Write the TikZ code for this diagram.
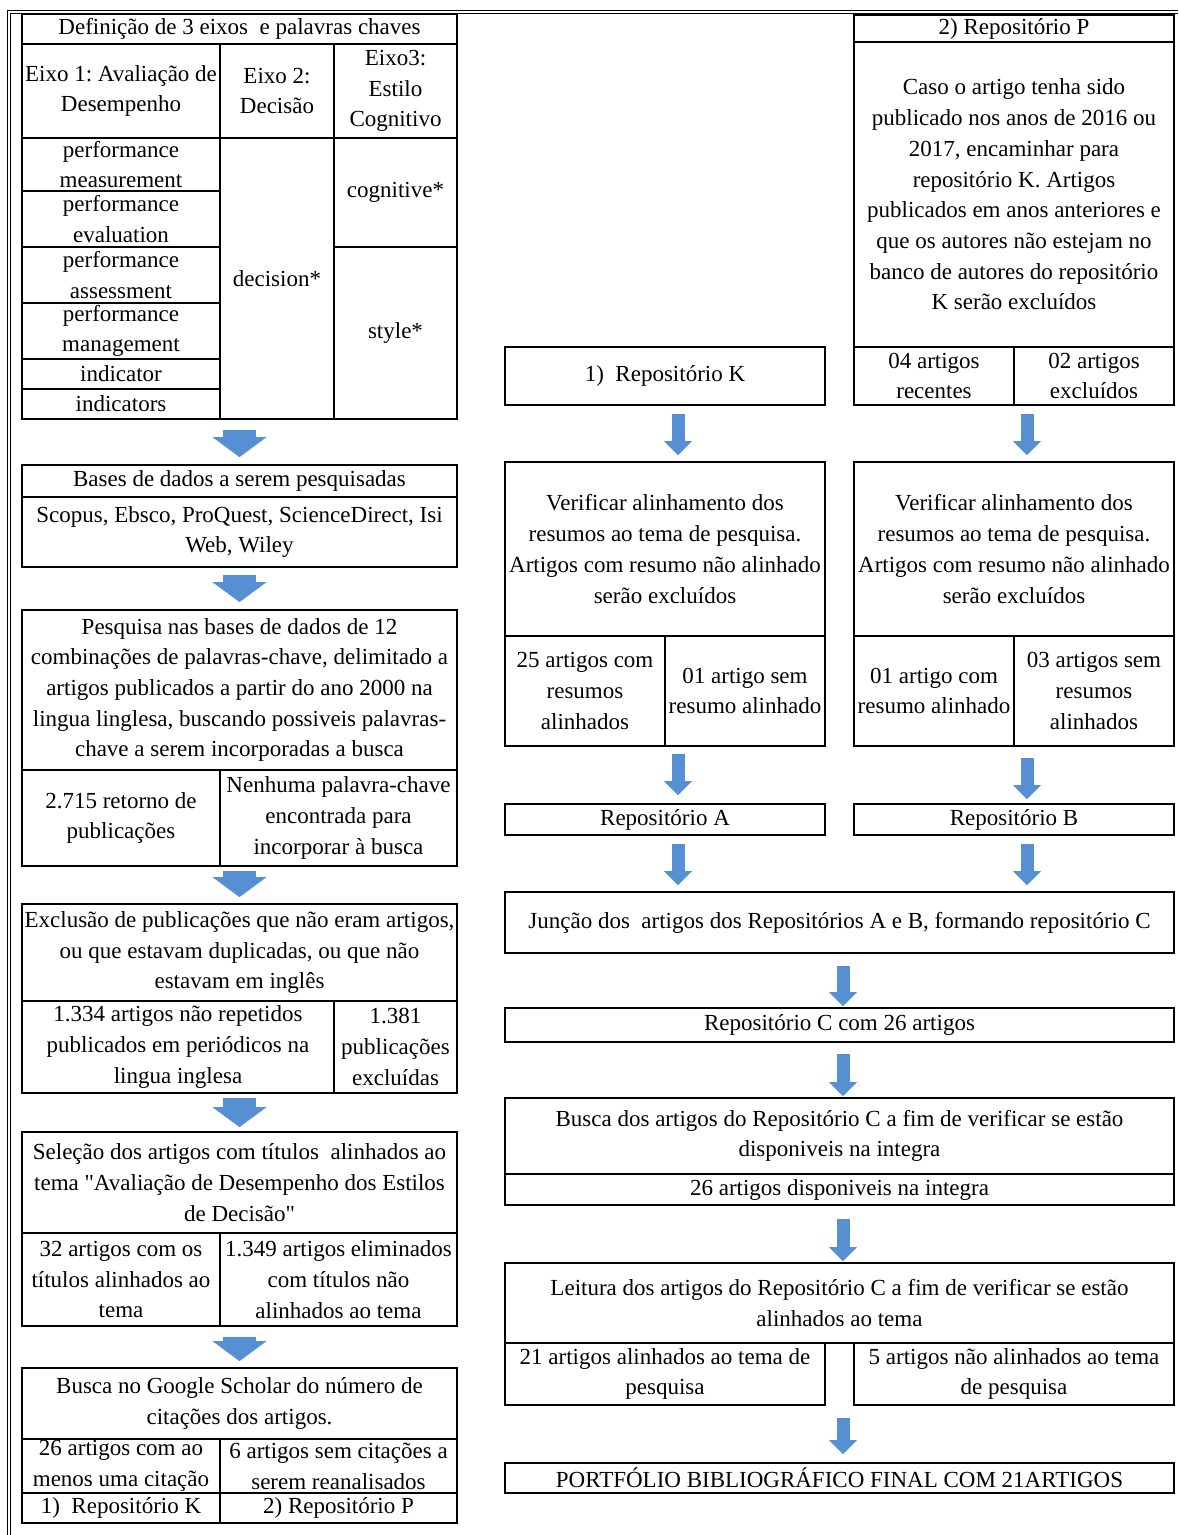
\documentclass[tikz,border=0pt]{standalone}
\usepackage{fontspec}
\setmainfont{Liberation Serif}
\usepackage{tikz}
\usetikzlibrary{arrows.meta}
\definecolor{flowblue}{HTML}{5790D2}
\tikzset{
  cell/.style={draw=black, line width=0.9pt, inner sep=0pt, align=center, font=\fontsize{11.5}{15.35}\selectfont\frenchspacing},
  flowwide/.style={draw=flowblue, line width=16.5pt, -{Triangle[width=27pt,length=10pt,line width=0.4pt]}},
  flowthin/.style={draw=flowblue, line width=6.5pt, -{Triangle[width=14pt,length=7pt,line width=0.4pt]}},
  pageframe/.style={draw=black, double, line width=0.5pt, double distance=1pt},
}
\begin{document}
\begin{tikzpicture}[x=0.5pt,y=-0.5pt]
  \useasboundingbox (0,0) rectangle (1178,1535);
  \draw[pageframe] (1178,12) -- (9,12) -- (9,1535);

  % left column: axes and keywords
  \node[cell, minimum width=217.5pt, minimum height=15pt] (tit) at (239.5,29) {Definição de 3 eixos~ e palavras chaves};
  \node[cell, minimum width=99pt, minimum height=47pt] (eixo1) at (121,91) {Eixo 1: Avaliação de\\Desempenho};
  \node[cell, minimum width=57pt, minimum height=47pt] (eixo2) at (277,91) {Eixo 2:\\Decisão};
  \node[cell, minimum width=61.5pt, minimum height=47pt] (eixo3) at (395.5,91) {Eixo3:\\Estilo\\Cognitivo};
  \foreach \n/\y/\h/\t in {kwa/164.5/26.5/{performance\\measurement}, kwb/219/28/{performance\\evaluation},
      kwc/275/28/{performance\\assessment}, kwd/331/28/{performance\\management},
      kwe/374/15/{indicator}, kwf/404/15/{indicators}}{
    \node[cell, minimum width=99pt, minimum height=\h pt] (\n) at (121,\y) {\t};
  }
  \node[cell, minimum width=57pt, minimum height=140.5pt] (dec) at (277,278.5) {decision*};
  \node[cell, minimum width=61.5pt, minimum height=54.5pt] (cog) at (395.5,192.5) {cognitive*};
  \node[cell, minimum width=61.5pt, minimum height=86pt] (sty) at (395.5,333) {style*};

  \node[cell, minimum width=217.5pt, minimum height=16pt] (basesT) at (239.5,481) {Bases de dados a serem pesquisadas};
  \node[cell, minimum width=217.5pt, minimum height=35pt] (basesB) at (239.5,532) {Scopus, Ebsco, ProQuest, ScienceDirect, Isi\\Web, Wiley};

  \node[cell, minimum width=217.5pt, minimum height=80pt] (pesq) at (239.5,690) {Pesquisa nas bases de dados de 12\\combinações de palavras-chave, delimitado a\\artigos publicados a partir do ano 2000 na\\lingua linglesa, buscando possiveis palavras-\\chave a serem incorporadas a busca};
  \node[cell, minimum width=99pt, minimum height=48pt] (pesqA) at (121,818) {2.715 retorno de\\publicações};
  \node[cell, minimum width=118.5pt, minimum height=48pt] (pesqB) at (338.5,818) {Nenhuma palavra-chave\\encontrada para\\incorporar à busca};

  \node[cell, minimum width=217.5pt, minimum height=48.5pt] (excl) at (239.5,952.5) {Exclusão de publicações que não eram artigos,\\ou que estavam duplicadas, ou que não\\estavam em inglês};
  \node[cell, minimum width=156pt, minimum height=46pt] (exclA) at (178,1047) {1.334 artigos não repetidos\\publicados em periódicos na\\lingua inglesa};
  \node[cell, minimum width=61.5pt, minimum height=46pt] (exclB) at (395.5,1047) {1.381\\publicações\\excluídas};

  \node[cell, minimum width=217.5pt, minimum height=50.5pt] (sel) at (239.5,1182.5) {Seleção dos artigos com títulos~ alinhados ao\\tema \textquotedbl Avaliação de Desempenho dos Estilos\\de Decisão\textquotedbl};
  \node[cell, minimum width=99pt, minimum height=46.5pt] (selA) at (121,1279.5) {32 artigos com os\\títulos alinhados ao\\tema};
  \node[cell, minimum width=118.5pt, minimum height=46.5pt] (selB) at (338.5,1279.5) {1.349 artigos eliminados\\com títulos não\\alinhados ao tema};

  \node[cell, minimum width=217.5pt, minimum height=35.5pt] (gs) at (239.5,1403.5) {Busca no Google Scholar do número de\\citações dos artigos.};
  \node[cell, minimum width=99pt, minimum height=27pt] (gsA) at (121,1466) {26 artigos com ao\\menos uma citação};
  \node[cell, minimum width=118.5pt, minimum height=27pt] (gsB) at (338.5,1466) {6 artigos sem citações a\\serem reanalisados};
  \node[cell, minimum width=99pt, minimum height=15pt] (gsK) at (121,1508) {1)~ Repositório K};
  \node[cell, minimum width=118.5pt, minimum height=15pt] (gsP) at (338.5,1508) {2) Repositório P};

  % right column: repositories
  \node[cell, minimum width=160pt, minimum height=13.5pt] (repPt) at (1014,28.5) {2) Repositório P};
  \node[cell, minimum width=160pt, minimum height=152.5pt] (repP) at (1014,194.5) {Caso o artigo tenha sido\\publicado nos anos de 2016 ou\\2017, encaminhar para\\repositório K. Artigos\\publicados em anos anteriores e\\que os autores não estejam no\\banco de autores do repositório\\K serão excluídos};
  \node[cell, minimum width=80pt, minimum height=29pt] (recP) at (934,376) {04 artigos\\recentes};
  \node[cell, minimum width=80pt, minimum height=29pt] (excP) at (1094,376) {02 artigos\\excluídos};
  \node[cell, minimum width=160pt, minimum height=29pt] (repK) at (665,376) {1)~ Repositório K};

  \node[cell, minimum width=160pt, minimum height=87pt] (verK) at (665,549) {Verificar alinhamento dos\\resumos ao tema de pesquisa.\\Artigos com resumo não alinhado\\serão excluídos};
  \node[cell, minimum width=80pt, minimum height=55pt] (verKa) at (585,691) {25 artigos com\\resumos\\alinhados};
  \node[cell, minimum width=80pt, minimum height=55pt] (verKb) at (745,691) {01 artigo sem\\resumo alinhado};
  \node[cell, minimum width=160pt, minimum height=87pt] (verP) at (1014,549) {Verificar alinhamento dos\\resumos ao tema de pesquisa.\\Artigos com resumo não alinhado\\serão excluídos};
  \node[cell, minimum width=80pt, minimum height=55pt] (verPa) at (934,691) {01 artigo com\\resumo alinhado};
  \node[cell, minimum width=80pt, minimum height=55pt] (verPb) at (1094,691) {03 artigos sem\\resumos\\alinhados};

  \node[cell, minimum width=160pt, minimum height=15.5pt] (repA) at (665,819.5) {Repositório A};
  \node[cell, minimum width=160pt, minimum height=15.5pt] (repB) at (1014,819.5) {Repositório B};
  \node[cell, minimum width=334.5pt, minimum height=30.5pt] (junc) at (839.5,922.5) {Junção dos~ artigos dos Repositórios A e B, formando repositório C};
  \node[cell, minimum width=334.5pt, minimum height=17pt] (repC) at (839.5,1025) {Repositório C com 26 artigos};
  \node[cell, minimum width=334.5pt, minimum height=38pt] (buscaC) at (839.5,1136) {Busca dos artigos do Repositório C a fim de verificar se estão\\disponiveis na integra};
  \node[cell, minimum width=334.5pt, minimum height=15.5pt] (disp) at (839.5,1189.5) {26 artigos disponiveis na integra};
  \node[cell, minimum width=334.5pt, minimum height=40pt] (leit) at (839.5,1303) {Leitura dos artigos do Repositório C a fim de verificar se estão\\alinhados ao tema};
  \node[cell, minimum width=160pt, minimum height=31pt] (al) at (665,1374) {21 artigos alinhados ao tema de\\pesquisa};
  \node[cell, minimum width=160pt, minimum height=31pt] (nal) at (1014,1374) {5 artigos não alinhados ao tema\\de pesquisa};
  \node[cell, minimum width=334.5pt, minimum height=15pt] (final) at (839.5,1478) {PORTFÓLIO BIBLIOGRÁFICO FINAL COM 21ARTIGOS};

  % arrows
  \coordinate (colL) at (239.5,0);
  \coordinate (colK) at (678,0);
  \coordinate (colP) at (1027,0);
  \coordinate (colC) at (843,0);
  \draw[flowwide, shorten <=5pt, shorten >=3.5pt] (colL |- sty.south) -- (basesT);
  \draw[flowwide, shorten <=3.5pt, shorten >=3.5pt] (basesB) -- (pesq);
  \draw[flowwide, shorten <=2pt, shorten >=3pt] (colL |- pesqA.south) -- (excl);
  \draw[flowwide, shorten <=2pt, shorten >=2pt] (colL |- exclA.south) -- (sel);
  \draw[flowwide, shorten <=5pt, shorten >=3pt] (colL |- selA.south) -- (gs);

  \draw[flowthin, shorten <=4pt, shorten >=3pt] (colK |- repK.south) -- (colK |- verK.north);
  \draw[flowthin, shorten <=4pt, shorten >=3pt] (colP |- recP.south) -- (colP |- verP.north);
  \draw[flowthin, shorten <=3.5pt, shorten >=4pt] (colK |- verKb.south) -- (colK |- repA.north);
  \draw[flowthin, shorten <=5.5pt, shorten >=2pt] (colP |- verPb.south) -- (colP |- repB.north);
  \draw[flowthin, shorten <=4pt, shorten >=3pt] (colK |- repA.south) -- (colK |- junc.north);
  \draw[flowthin, shorten <=4pt, shorten >=3pt] (colP |- repB.south) -- (colP |- junc.north);
  \draw[flowthin, shorten <=6pt, shorten >=0.5pt] (colC |- junc.south) -- (colC |- repC.north);
  \draw[flowthin, shorten <=5.5pt, shorten >=0.5pt] (colC |- repC.south) -- (colC |- buscaC.north);
  \draw[flowthin, shorten <=6.5pt, shorten >=0.5pt] (colC |- disp.south) -- (colC |- leit.north);
  \draw[flowthin, shorten <=6pt, shorten >=4pt] (colC |- al.south) -- (colC |- final.north);
\end{tikzpicture}
\end{document}
